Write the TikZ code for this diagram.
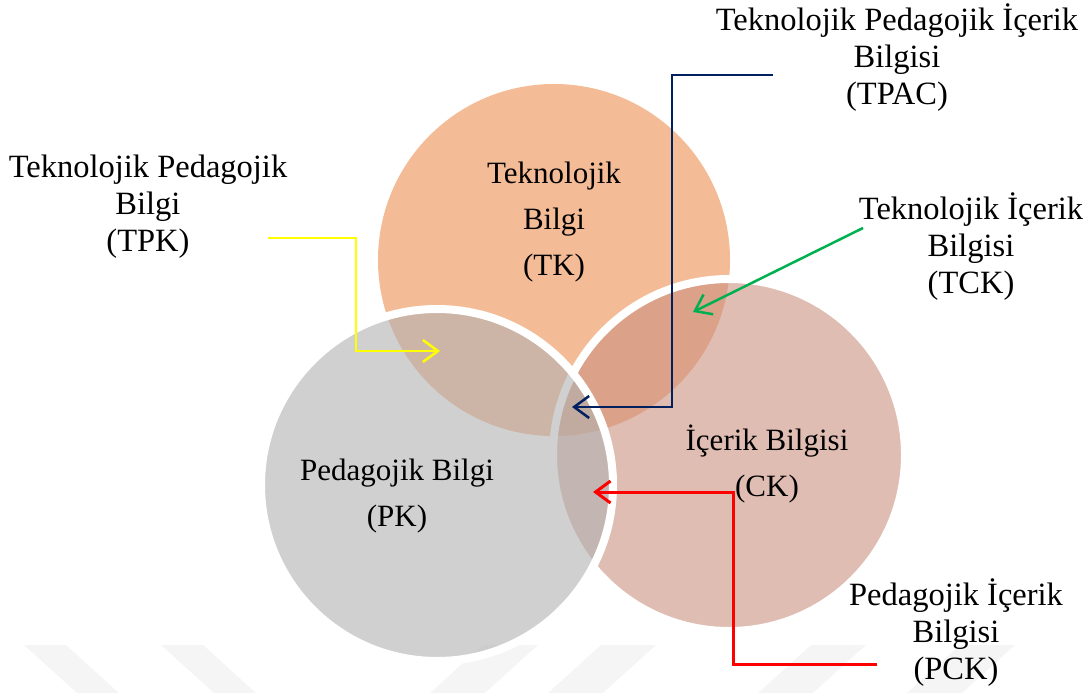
\documentclass[tikz,border=0pt]{standalone}
\usepackage{fontspec}
\setmainfont{Liberation Serif}
\usetikzlibrary{arrows.meta,positioning}
\definecolor{TKOrange}{RGB}{237,143,80}
\definecolor{CKRose}{RGB}{203,145,128}
\definecolor{PKGray}{RGB}{177,177,177}
\definecolor{TPACNavy}{RGB}{0,32,96}
\definecolor{TCKGreen}{RGB}{0,176,80}
\definecolor{PCKRed}{RGB}{255,0,0}
\definecolor{TPKYellow}{RGB}{255,255,0}
\definecolor{MarkGray}{RGB}{245,245,245}

\begin{document}
\begin{tikzpicture}[x=1pt,y=-1pt,>={Straight Barb[length=15pt,width=22pt]},
  disk/.style={circle,minimum size=352pt,inner sep=0pt,fill opacity=0.6},
  rim/.style={draw=white,line width=8pt},
  intext/.style={align=center,font=\fontsize{31}{46}\selectfont},
  outtext/.style={align=center,font=\fontsize{32.5}{37}\selectfont},
  link/.style={->,line width=2.5pt}]
  \useasboundingbox (0,0) rectangle (1091,693);
  % faint stripes at the bottom
  \foreach \x in {24,161}{\fill[MarkGray] (\x,645) -- ++(42,0) -- ++(53,48) -- ++(-42,0) -- cycle;}
  \foreach \x in {483,601,811,960}{\fill[MarkGray] (\x,645) -- ++(55,0) -- ++(-53,48) -- ++(-55,0) -- cycle;}

  % the three circles
  \node[disk,fill=TKOrange] (tk) at (554,260) {};
  \node[disk,fill=CKRose,rim] (ck) at (729,455) {};
  \node[disk,fill=PKGray,rim] (pk) at (437,485) {};

  \node[intext] (tktext) at (554,222) {Teknolojik\\Bilgi\\(TK)};
  \node[intext] (pktext) at (397,496) {Pedagojik Bilgi\\(PK)};
  \node[intext] (cktext) at (767,464) {İçerik Bilgisi\\(CK)};

  % outer labels
  \node[outtext] (tpac) at (897,58) {Teknolojik Pedagojik İçerik\\Bilgisi\\(TPAC)};
  \node[outtext] (tck) at (971,247) {Teknolojik İçerik\\Bilgisi\\(TCK)};
  \node[outtext] (tpk) at (148,207) {Teknolojik Pedagojik\\Bilgi\\(TPK)};
  \node[outtext] (pck) at (956,633) {Pedagojik İçerik\\Bilgisi\\(PCK)};

  \coordinate (tpacStart) at (773,75);
  \coordinate (tpacTip) at (572,407);
  \coordinate (tckStart) at (863,228);
  \coordinate (tckTip) at (693,312);
  \coordinate (tpkStart) at (268,238);
  \coordinate (tpkTip) at (440,351);
  \coordinate (pckStart) at (877,664);
  \coordinate (pckTip) at (593,492);

  \draw[link,TPACNavy] (tpacStart) -- ++(-101,0) |- (tpacTip);
  \draw[link,TCKGreen] (tckStart) -- (tckTip);
  \draw[link,TPKYellow] (tpkStart) -- ++(88,0) |- (tpkTip);
  \draw[link,PCKRed,line width=3pt] (pckStart) -- ++(-144,0) |- (pckTip);
\end{tikzpicture}
\end{document}
